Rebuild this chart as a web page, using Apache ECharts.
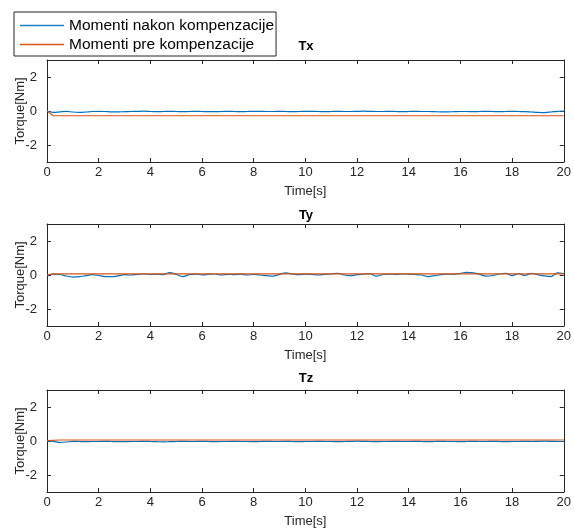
<!DOCTYPE html>
<html>
<head>
<meta charset="utf-8">
<script src="https://cdn.jsdelivr.net/npm/echarts@6/dist/echarts.min.js"></script>
<style>
html, body { margin: 0; padding: 0; background: #fff; }
#chart { width: 574px; height: 529px; }
</style>
</head>
<body>
<div id="chart"></div>
<script>
// sample times of the compensated signal, 0..20 s
var time = [];
for (var i = 0; i <= 80; i++) time.push(i * 0.25);

var panelTitles = ['Tx', 'Ty', 'Tz'];
var seriesNames = ['Momenti nakon kompenzacije', 'Momenti pre kompenzacije'];
var yTicks = [-2, 0, 2];

// moments after compensation (blue)
var txAfter = [
  0.0, -0.08, -0.05, -0.02, -0.06, -0.08, -0.06, -0.03, -0.02, -0.03, -0.05, -0.05, -0.04, -0.03, -0.02, -0.01,
  -0.03, -0.04, -0.03, -0.02, -0.03, -0.04, -0.03, -0.02, -0.03, -0.04, -0.04, -0.03, -0.02, -0.03, -0.04, -0.03,
  -0.02, -0.02, -0.03, -0.03, -0.02, -0.03, -0.04, -0.03, -0.02, -0.02, -0.03, -0.04, -0.03, -0.02, -0.03, -0.03,
  -0.02, -0.01, -0.02, -0.03, -0.03, -0.02, -0.03, -0.04, -0.03, -0.02, -0.03, -0.03, -0.04, -0.05, -0.05, -0.04,
  -0.03, -0.03, -0.04, -0.03, -0.02, -0.03, -0.04, -0.03, -0.02, -0.03, -0.04, -0.06, -0.08, -0.09, -0.06, -0.02, 0.0
];
var tyAfter = [
  0.0, 0.05, 0.03, -0.06, -0.12, -0.10, -0.04, 0.02, -0.03, -0.09, -0.10, -0.05, 0.02, 0.0, 0.04, 0.06,
  0.03, 0.05, 0.02, 0.14, 0.04, -0.10, 0.02, 0.05, 0.01, 0.04, 0.06, 0.0, 0.04, 0.02, 0.05, 0.0,
  0.03, 0.0, -0.04, -0.07, 0.04, 0.12, 0.06, 0.02, 0.05, 0.03, 0.0, 0.04, 0.06, 0.10, 0.0, -0.04,
  0.02, 0.05, 0.08, -0.07, 0.03, 0.05, 0.04, 0.06, 0.05, 0.03, 0.0, -0.09, -0.04, 0.02, 0.05, 0.04,
  0.10, 0.15, 0.12, 0.04, -0.07, -0.03, 0.06, 0.10, -0.04, 0.08, -0.03, 0.10, 0.02, -0.05, -0.09, 0.12, 0.08
];
var tzAfter = [
  0.0, -0.02, -0.08, -0.06, -0.02, -0.03, -0.04, -0.03, -0.03, -0.02, -0.03, -0.04, -0.04, -0.03, -0.03, -0.02,
  -0.03, -0.04, -0.05, -0.04, -0.03, -0.02, -0.03, -0.03, -0.02, -0.03, -0.04, -0.03, -0.03, -0.02, -0.03, -0.03,
  -0.04, -0.03, -0.02, -0.03, -0.03, -0.02, -0.03, -0.04, -0.03, -0.03, -0.02, -0.03, -0.03, -0.04, -0.03, -0.02,
  -0.01, -0.02, -0.03, -0.04, -0.03, -0.03, -0.02, -0.03, -0.03, -0.02, -0.03, -0.04, -0.03, -0.02, -0.03, -0.03,
  -0.04, -0.03, -0.02, -0.03, -0.03, -0.02, -0.03, -0.04, -0.03, -0.03, -0.02, -0.03, -0.02, -0.01, -0.02, -0.03, -0.03
];

// moments before compensation (orange), nearly constant offsets
var txBeforeTime = [0, 0.25, 20];
var txBefore = [0, -0.28, -0.28];
var tyBeforeTime = [0, 0.25, 20];
var tyBefore = [0, 0.07, 0.07];
var tzBeforeTime = [0, 0.5, 20];
var tzBefore = [0.02, 0.06, 0.06];

var afterData = [txAfter, tyAfter, tzAfter];
var beforeTime = [txBeforeTime, tyBeforeTime, tzBeforeTime];
var beforeData = [txBefore, tyBefore, tzBefore];

var blue = '#0072BD';
var orange = '#D95319';
var axisColor = '#262626';
var font = 'Liberation Sans, Arial, sans-serif';

function pairs(xs, ys) {
  var out = [];
  for (var k = 0; k < xs.length; k++) out.push([xs[k], ys[k]]);
  return out;
}

var gridTops = [60, 224, 390];
var titleY = [46, 215, 378];
var grids = [], xAxes = [], yAxes = [], series = [], graphics = [];

for (var p = 0; p < 3; p++) {
  grids.push({ left: 47, right: 9, top: gridTops[p], height: 102, show: false });
  var base = {
    gridIndex: p, type: 'value', min: 0, max: 20, interval: 2,
    axisLine: { show: true, onZero: false, lineStyle: { color: axisColor, width: 1 } },
    axisTick: { show: true, inside: true, length: 4, lineStyle: { color: axisColor } },
    splitLine: { show: false }
  };
  xAxes.push(Object.assign({}, base, {
    position: 'bottom',
    axisLabel: { color: axisColor, fontSize: 13, fontFamily: font, margin: 4 },
    name: 'Time[s]', nameLocation: 'middle', nameGap: 23, nameMoveOverlap: false,
    nameTextStyle: { color: axisColor, fontSize: 13, fontFamily: font }
  }));
  xAxes.push(Object.assign({}, base, { position: 'top', axisLabel: { show: false } }));

  var ybase = {
    gridIndex: p, type: 'value', min: -3, max: 3,
    axisLine: { show: true, onZero: false, lineStyle: { color: axisColor, width: 1 } },
    axisTick: { show: true, inside: true, length: 4, customValues: yTicks, lineStyle: { color: axisColor } },
    splitLine: { show: false }
  };
  yAxes.push(Object.assign({}, ybase, {
    position: 'left',
    axisLabel: { color: axisColor, fontSize: 13, fontFamily: font, margin: 10, customValues: yTicks },
    name: 'Torque[Nm]', nameLocation: 'middle', nameGap: 20, nameMoveOverlap: false,
    nameTextStyle: { color: axisColor, fontSize: 13, fontFamily: font }
  }));
  yAxes.push(Object.assign({}, ybase, { position: 'right', axisLabel: { show: false } }));

  series.push({
    name: seriesNames[0], type: 'line', xAxisIndex: 2 * p, yAxisIndex: 2 * p,
    data: pairs(time, afterData[p]), showSymbol: false, smooth: 0.3,
    lineStyle: { color: blue, width: 1.2 }, itemStyle: { color: blue }
  });
  series.push({
    name: seriesNames[1], type: 'line', xAxisIndex: 2 * p, yAxisIndex: 2 * p,
    data: pairs(beforeTime[p], beforeData[p]), showSymbol: false,
    lineStyle: { color: orange, width: 1.2 }, itemStyle: { color: orange }
  });

  graphics.push({
    type: 'text', x: 306, y: titleY[p],
    style: { text: panelTitles[p], font: 'bold 13px ' + font, fill: '#000', textAlign: 'center', textVerticalAlign: 'middle' }
  });
}

var myChart = echarts.init(document.getElementById('chart'));
var option = {
  animation: false,
  backgroundColor: '#fff',
  grid: grids,
  xAxis: xAxes,
  yAxis: yAxes,
  series: series,
  graphic: graphics,
  legend: {
    data: [
      { name: seriesNames[0], itemStyle: { color: '#1f7fc4', borderWidth: 0 } },
      { name: seriesNames[1], itemStyle: { color: orange, borderWidth: 0 } }
    ],
    orient: 'vertical',
    left: 14, top: 12,
    backgroundColor: '#fff',
    borderColor: axisColor, borderWidth: 1,
    padding: [4, 2, 2, 6],
    itemGap: 0,
    itemWidth: 44, itemHeight: 1.5,
    icon: 'rect',
    textStyle: { color: '#000', fontSize: 15.5, fontFamily: font, lineHeight: 19 }
  }
};
myChart.setOption(option);
</script>
</body>
</html>
